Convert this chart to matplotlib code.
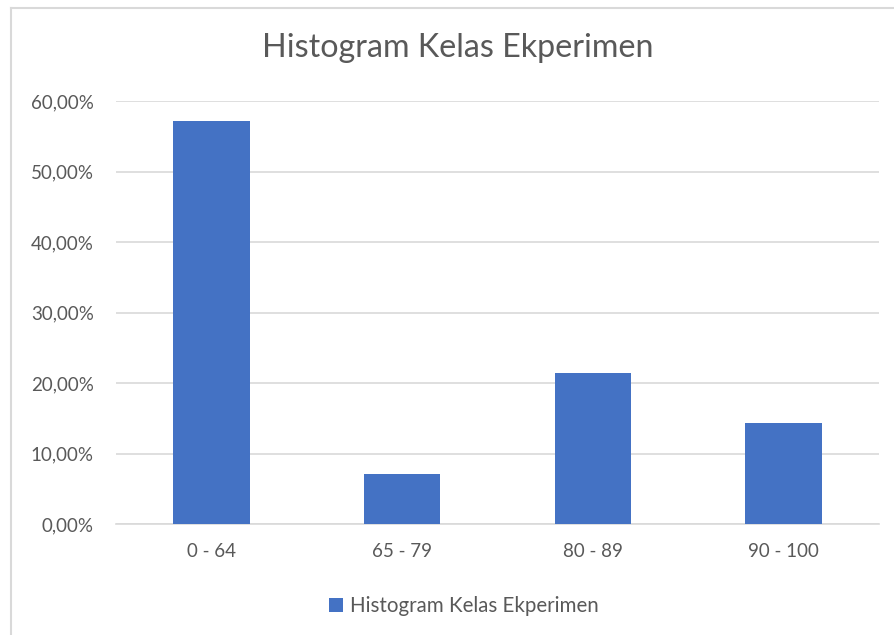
import matplotlib
matplotlib.use("Agg")
import matplotlib.pyplot as plt
from matplotlib.lines import Line2D
from matplotlib.ticker import FuncFormatter

categories = ["0 - 64", "65 - 79", "80 - 89", "90 - 100"]
values = [0.5714, 0.0714, 0.2143, 0.1429]
series_name = "Histogram Kelas Ekperimen"
title = "Histogram Kelas Ekperimen"

W, H = 894, 635
plt.rcParams['font.family'] = ['Lato', 'DejaVu Sans']
txt = '#595959'
fig = plt.figure(figsize=(W / 100, H / 100), dpi=100)

# outer chart border (left and top visible)
fig.add_artist(Line2D([11 / W, 11 / W], [0, 1 - 8 / H], transform=fig.transFigure, color='#d9d9d9', lw=1.5))
fig.add_artist(Line2D([11 / W, 1], [1 - 8 / H, 1 - 8 / H], transform=fig.transFigure, color='#d9d9d9', lw=1.5))

left, right, bottom, top = 116, 879, 524, 101
ax = fig.add_axes([left / W, 1 - bottom / H, (right - left) / W, (bottom - top) / H])
x = range(len(categories))
ax.bar(x, values, width=0.4, color='#4472C4', zorder=3, label=series_name)
ax.set_xlim(-0.5, len(categories) - 0.5)
ax.set_ylim(0, 0.6)
ax.set_yticks([0, 0.1, 0.2, 0.3, 0.4, 0.5, 0.6])
ax.yaxis.set_major_formatter(FuncFormatter(lambda v, p: f"{v*100:.2f}%".replace('.', ',')))
ax.set_xticks(list(x))
ax.set_xticklabels(categories)
ax.grid(axis='y', color='#d9d9d9', lw=1.2, zorder=0)
for s in ['top', 'right', 'left']:
    ax.spines[s].set_visible(False)
ax.spines['bottom'].set_color('#d9d9d9')
ax.spines['bottom'].set_linewidth(1.2)
ax.tick_params(axis='both', length=0, labelsize=13.5, labelcolor=txt)
ax.tick_params(axis='y', pad=16)
ax.tick_params(axis='x', pad=14)

fig.text(458 / W, 1 - 48 / H, title, ha='center', va='center', fontsize=23.2, color=txt)
leg = fig.legend(loc='center', bbox_to_anchor=(464 / W, 1 - 606 / H), frameon=False,
                 fontsize=14.8, handlelength=0.65, handleheight=0.65, handletextpad=0.35,
                 labelcolor=txt)

fig.savefig('out.png', dpi=100)
